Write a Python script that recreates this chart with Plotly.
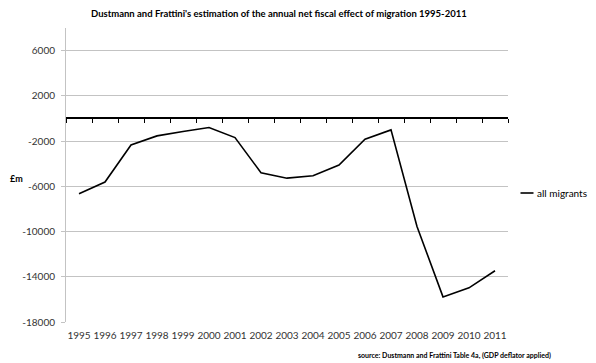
import plotly.graph_objects as go

years = ["1995", "1996", "1997", "1998", "1999", "2000", "2001", "2002", "2003",
         "2004", "2005", "2006", "2007", "2008", "2009", "2010", "2011"]
all_migrants = [-6650, -5620, -2340, -1540, -1160, -800, -1690, -4800, -5280,
                -5070, -4120, -1840, -1010, -9550, -15780, -14980, -13470]
y_ticks = [-18000, -14000, -10000, -6000, -2000, 2000, 6000]
y_tick_labels = [str(v) for v in y_ticks]
y_range = [-18000, 8000]

title_text = "Dustmann and Frattini's estimation of the annual net fiscal effect of migration 1995-2011"
source_text = "source: Dustmann and Frattini Table 4a, (GDP deflator applied)"
series_name = "all migrants"
y_title = "£m"

FONT = "Lato, 'Open Sans', sans-serif"
GRID = "#c3c3c3"
TXT = "#333333"

# page body has an 8px margin; figure is laid out in page coordinates minus 8
OFF = 8
PL, PR, PT, PB = 66, 508, 28, 322   # plot area in page pixels
PW, PH = PR - PL, PB - PT

def px(xp):
    return (xp - PL) / PW

def py(yp):
    return (PB - yp) / PH

fig = go.Figure()
fig.add_trace(go.Scatter(x=years, y=all_migrants, mode="lines", name=series_name,
                         line=dict(color="#000000", width=1.6), showlegend=False))
# invisible trace to hold the zero-crossing category axis
fig.add_trace(go.Scatter(x=[], y=[], xaxis="x2", yaxis="y", showlegend=False,
                         hoverinfo="skip"))

zero_pos = (0 - y_range[0]) / (y_range[1] - y_range[0])
n = len(years)
boundaries = [i - 0.5 for i in range(n + 1)]

W, H = 596 - OFF, 363 - OFF
fig.update_layout(
    width=W, height=H,
    margin=dict(l=PL - OFF, r=596 - PR, t=PT - OFF, b=363 - PB, autoexpand=False),
    paper_bgcolor="white", plot_bgcolor="white",
    font=dict(family=FONT, size=10, color=TXT),
    xaxis=dict(type="category", range=[-0.5, n - 0.5], showgrid=False,
               showline=False, ticks="", zeroline=False,
               tickfont=dict(size=10, color=TXT), ticklabelstandoff=6),
    xaxis2=dict(overlaying="x", anchor="free", position=zero_pos, side="bottom",
                range=[-0.5, n - 0.5], tickmode="array", tickvals=boundaries,
                ticks="outside", ticklen=4, tickwidth=1, tickcolor="#000000",
                showticklabels=False, showline=True, linecolor="#000000",
                linewidth=1.5, showgrid=False, zeroline=False),
    yaxis=dict(range=y_range, tickmode="array", tickvals=y_ticks,
               ticktext=y_tick_labels,
               showgrid=True, gridcolor=GRID, gridwidth=1,
               showline=True, linecolor=GRID, linewidth=1,
               ticks="outside", ticklen=4, tickcolor=GRID,
               zeroline=False, tickfont=dict(size=10, color=TXT),
               ticklabelstandoff=4),
    showlegend=False,
)

# title
fig.add_annotation(text="<b>" + title_text + "</b>", xref="paper", yref="paper",
                   x=px(279), y=py(13), xanchor="center",
                   yanchor="middle", showarrow=False,
                   font=dict(size=9.5, color="#000000", family=FONT))
# y title
fig.add_annotation(text="<b>" + y_title + "</b>", xref="paper", yref="paper",
                   x=px(8), y=py(178), xanchor="left",
                   yanchor="middle", showarrow=False,
                   font=dict(size=9, color="#000000", family=FONT))
# legend
ly = py(193)
fig.add_shape(type="line", xref="paper", yref="paper", x0=px(520.5), x1=px(533.5),
              y0=ly, y1=ly, line=dict(color="#000000", width=1.6))
fig.add_annotation(text=series_name, xref="paper", yref="paper",
                   x=px(535), y=ly, xanchor="left", yanchor="middle",
                   showarrow=False, font=dict(size=10, color="#000000", family=FONT))
# source
fig.add_annotation(text="<b>" + source_text + "</b>", xref="paper", yref="paper",
                   x=px(553), y=py(355), xanchor="right",
                   yanchor="middle", showarrow=False,
                   font=dict(size=7, color="#000000", family=FONT))

fig.write_html("out.html")
